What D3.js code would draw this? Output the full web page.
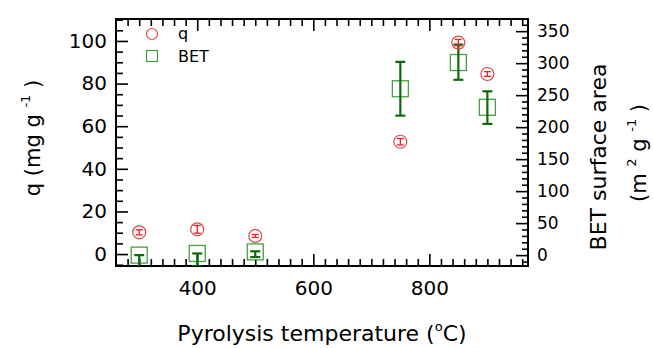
<!DOCTYPE html>
<html>
<head>
<meta charset="utf-8">
<script src="https://cdn.jsdelivr.net/npm/d3@7"></script>
<style>
  html, body { margin: 0; padding: 0; background: #fff; }
  svg { display: block; font-family: "DejaVu Sans", sans-serif; }
</style>
</head>
<body>
<svg id="chart" width="653" height="348"></svg>
<script>
// Pyrolysis temperature (°C) of each sample
const temps = [300, 400, 500, 750, 850, 900];
// Adsorption capacity q (mg g-1) with error
const qValues = [10.2, 11.6, 8.5, 52.7, 99.2, 84.5];
const qErr = [1.2, 1.8, 0.7, 1.5, 1.5, 1.1];
// BET surface area (m2 g-1) with upper / lower error
const betValues = [0, 2.6, 5, 260, 301, 231];
const betErrUp = [0, 0, 1, 42, 28, 25];
const betErrDown = [20, 20, 8, 42, 27, 26];

const xTicks = [400, 600, 800];
const qTicks = [0, 20, 40, 60, 80, 100];
const betTicks = [0, 50, 100, 150, 200, 250, 300, 350];

const svg = d3.select("#chart");
const L = 116, R = 528, T = 19, B = 266;

const x = d3.scaleLinear().domain([260, 970]).range([L, R]);
const yQ = d3.scaleLinear().domain([-5.6, 110.3]).range([B, T]);
const yB = d3.scaleLinear().domain([-17, 369]).range([B, T]);

const qColor = "#d8494a", qErrColor = "#ff1a1a";
const betColor = "#46a046", betErrColor = "#0c6a0c";

// clip region for the data marks
svg.append("defs").append("clipPath").attr("id", "plotClip")
  .append("rect").attr("x", L).attr("y", T).attr("width", R - L).attr("height", B - T);

function styleAxis(g, fontSize) {
  g.select(".domain").remove();
  g.selectAll(".tick line").attr("stroke", "#000").attr("stroke-width", 1.6);
  g.selectAll(".tick text").attr("fill", "#000").attr("font-size", fontSize)
    .attr("font-family", "DejaVu Sans, sans-serif");
}

// minor ticks
const xMinor = d3.range(280, 961, 20).filter(v => !xTicks.includes(v));
svg.append("g").attr("transform", `translate(0,${B})`)
  .call(d3.axisBottom(x).tickValues(xMinor).tickSize(-7).tickFormat(""))
  .call(g => styleAxis(g, 0));
svg.append("g").attr("transform", `translate(0,${T})`)
  .call(d3.axisTop(x).tickValues(xMinor).tickSize(-7).tickFormat(""))
  .call(g => styleAxis(g, 0));
const qMinor = d3.range(-5, 111, 5).filter(v => !qTicks.includes(v));
svg.append("g").attr("transform", `translate(${L},0)`)
  .call(d3.axisLeft(yQ).tickValues(qMinor).tickSize(-7).tickFormat(""))
  .call(g => styleAxis(g, 0));
const bMinor = d3.range(-10, 366, 10).filter(v => !betTicks.includes(v));
svg.append("g").attr("transform", `translate(${R},0)`)
  .call(d3.axisRight(yB).tickValues(bMinor).tickSize(-6).tickFormat(""))
  .call(g => styleAxis(g, 0));

// major ticks with labels
svg.append("g").attr("transform", `translate(0,${B})`)
  .call(d3.axisBottom(x).tickValues(xTicks).tickSize(-12).tickPadding(15).tickFormat(d3.format("d")))
  .call(g => styleAxis(g, 20));
svg.append("g").attr("transform", `translate(0,${T})`)
  .call(d3.axisTop(x).tickValues(xTicks).tickSize(-12).tickFormat(""))
  .call(g => styleAxis(g, 0));
svg.append("g").attr("transform", `translate(${L},0)`)
  .call(d3.axisLeft(yQ).tickValues(qTicks).tickSize(-12).tickPadding(9).tickFormat(d3.format("d")))
  .call(g => styleAxis(g, 20));
svg.append("g").attr("transform", `translate(${R},0)`)
  .call(d3.axisRight(yB).tickValues(betTicks).tickSize(-12).tickPadding(9).tickFormat(d3.format("d")))
  .call(g => styleAxis(g, 17));

// frame
svg.append("rect").attr("x", L).attr("y", T).attr("width", R - L).attr("height", B - T)
  .attr("fill", "none").attr("stroke", "#000").attr("stroke-width", 2);

const plot = svg.append("g").attr("clip-path", "url(#plotClip)");
const rows = temps.map((t, i) => ({
  t, q: qValues[i], qe: qErr[i], b: betValues[i], bu: betErrUp[i], bd: betErrDown[i]
}));

// BET squares and error bars
plot.selectAll("rect.bet").data(rows).join("rect").attr("class", "bet")
  .attr("x", d => x(d.t) - 8).attr("y", d => yB(d.b) - 8)
  .attr("width", 16).attr("height", 16)
  .attr("fill", "none").attr("stroke", betColor).attr("stroke-width", 1.3);
const be = plot.selectAll("g.betErr").data(rows).join("g").attr("class", "betErr")
  .attr("stroke", betErrColor).attr("stroke-width", 2.2);
be.append("line").attr("x1", d => x(d.t)).attr("x2", d => x(d.t))
  .attr("y1", d => yB(d.b + d.bu)).attr("y2", d => yB(d.b - d.bd));
be.append("line").attr("x1", d => x(d.t) - 5).attr("x2", d => x(d.t) + 5)
  .attr("y1", d => yB(d.b + d.bu)).attr("y2", d => yB(d.b + d.bu));
be.append("line").attr("x1", d => x(d.t) - 5).attr("x2", d => x(d.t) + 5)
  .attr("y1", d => yB(d.b - d.bd)).attr("y2", d => yB(d.b - d.bd));

// q circles and error bars
plot.selectAll("circle.q").data(rows).join("circle").attr("class", "q")
  .attr("cx", d => x(d.t)).attr("cy", d => yQ(d.q)).attr("r", 6.5)
  .attr("fill", "none").attr("stroke", qColor).attr("stroke-width", 1.2);
const qe = plot.selectAll("g.qErr").data(rows).join("g").attr("class", "qErr")
  .attr("stroke", qErrColor).attr("stroke-width", 1.3);
qe.append("line").attr("x1", d => x(d.t)).attr("x2", d => x(d.t))
  .attr("y1", d => yQ(d.q + d.qe)).attr("y2", d => yQ(d.q - d.qe));
qe.append("line").attr("x1", d => x(d.t) - 3.5).attr("x2", d => x(d.t) + 3.5)
  .attr("y1", d => yQ(d.q + d.qe)).attr("y2", d => yQ(d.q + d.qe));
qe.append("line").attr("x1", d => x(d.t) - 3.5).attr("x2", d => x(d.t) + 3.5)
  .attr("y1", d => yQ(d.q - d.qe)).attr("y2", d => yQ(d.q - d.qe));

// legend
const leg = svg.append("g");
leg.append("circle").attr("cx", 152).attr("cy", 34).attr("r", 5.5)
  .attr("fill", "none").attr("stroke", qColor).attr("stroke-width", 1.2);
leg.append("text").attr("x", 178).attr("y", 39).attr("font-size", 16).text("q");
leg.append("rect").attr("x", 146.5).attr("y", 50.5).attr("width", 11).attr("height", 11)
  .attr("fill", "none").attr("stroke", betColor).attr("stroke-width", 1.2);
leg.append("text").attr("x", 178).attr("y", 62).attr("font-size", 16).text("BET");

// axis titles
const xt = svg.append("text").attr("x", 322).attr("y", 341).attr("text-anchor", "middle")
  .attr("font-size", 22);
xt.append("tspan").text("Pyrolysis temperature (");
xt.append("tspan").attr("font-size", 13).attr("dy", -10).text("o");
xt.append("tspan").attr("dy", 10).text("C)");

const yl = svg.append("text").attr("transform", "translate(40,138) rotate(-90)")
  .attr("text-anchor", "middle").attr("font-size", 21);
yl.append("tspan").text("q (mg g ");
yl.append("tspan").attr("font-size", 13).attr("dy", -10).text("-1");
yl.append("tspan").attr("dy", 10).text(" )");

svg.append("text").attr("transform", "translate(606,157) rotate(-90)")
  .attr("text-anchor", "middle").attr("font-size", 22).text("BET surface area");
const yr = svg.append("text").attr("transform", "translate(646,153) rotate(-90)")
  .attr("text-anchor", "middle").attr("font-size", 21);
yr.append("tspan").text("(m ");
yr.append("tspan").attr("font-size", 13).attr("dy", -10).text("2");
yr.append("tspan").attr("dy", 10).text("  g ");
yr.append("tspan").attr("font-size", 13).attr("dy", -10).text("-1");
yr.append("tspan").attr("dy", 10).text(" )");
</script>
</body>
</html>
